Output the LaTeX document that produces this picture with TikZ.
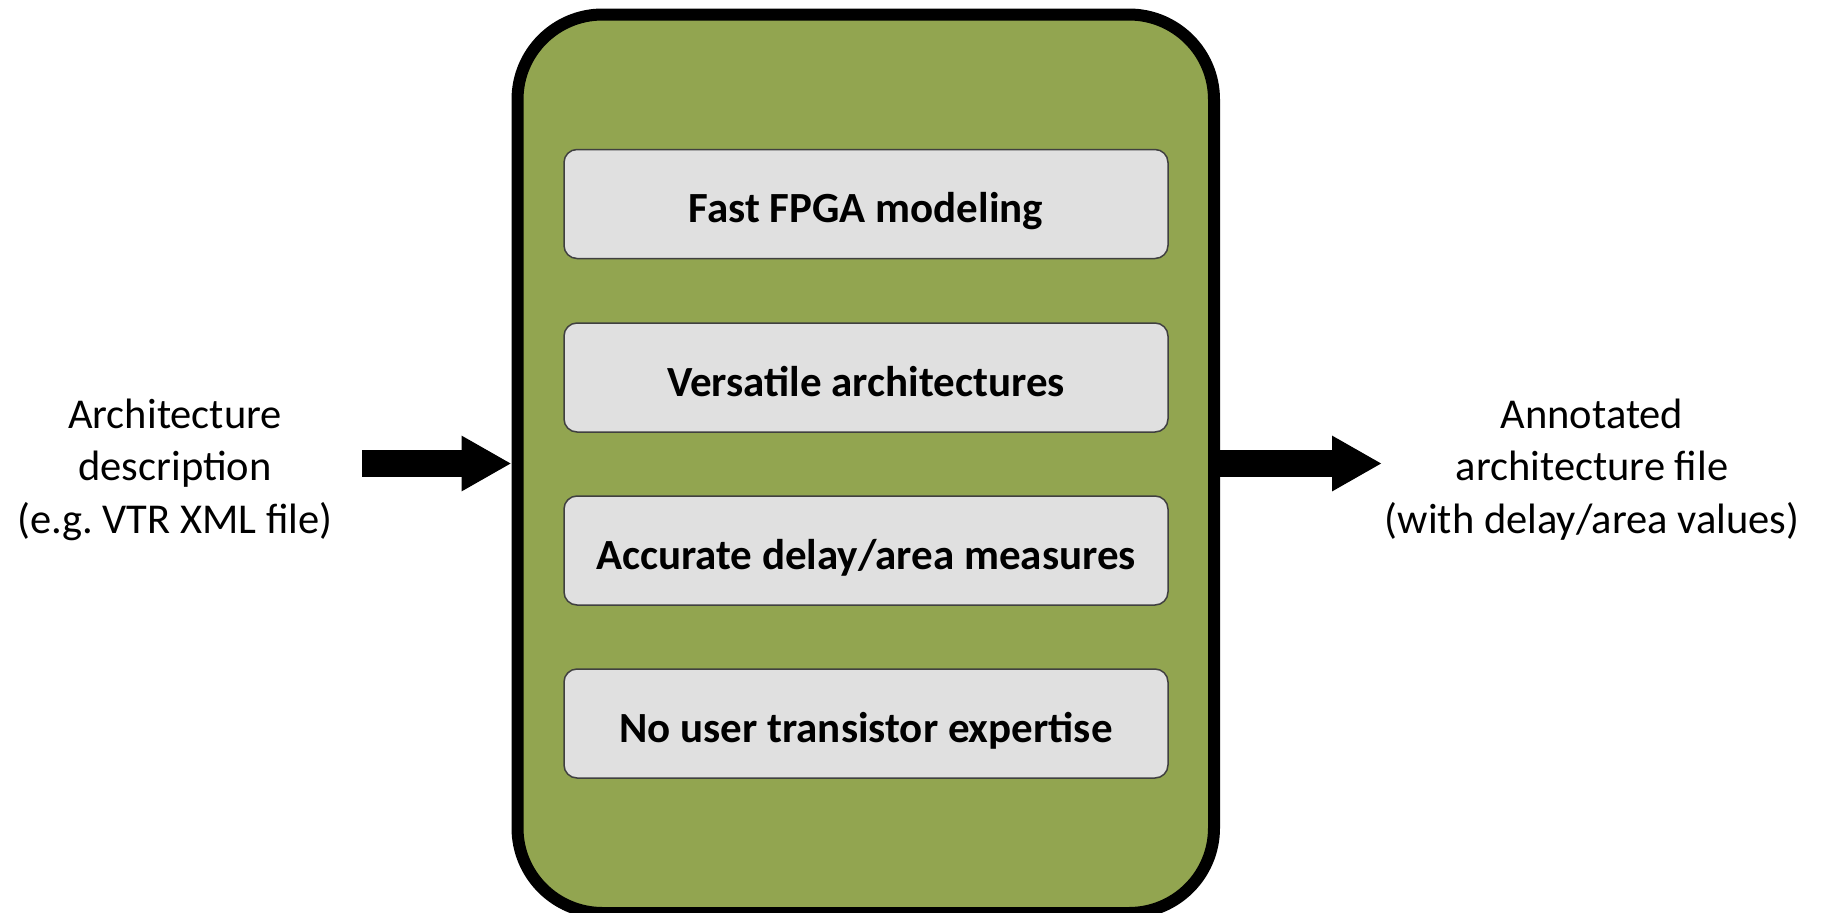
\documentclass[tikz,border=0pt]{standalone}
\usepackage{fontspec}
\setmainfont{Carlito}
\usetikzlibrary{arrows.meta}
\definecolor{olivebg}{RGB}{146,165,80}
\definecolor{boxfill}{RGB}{224,224,224}
\definecolor{boxline}{RGB}{64,64,64}
\tikzset{
  outerbox/.style={draw=black, line width=12pt, fill=olivebg, rounded corners=85pt,
    minimum width=696.5pt, minimum height=898.5pt, inner sep=0pt},
  featbox/.style={draw=boxline, line width=1.5pt, fill=boxfill, rounded corners=13pt,
    minimum width=604pt, minimum height=109pt, inner sep=0pt,
    text height=37pt, text depth=0pt,
    font=\fontsize{43}{50}\selectfont\bfseries},
  sidetext/.style={align=center, inner sep=0pt, font=\fontsize{42.5}{52.5}\selectfont},
  blockarrow/.style={line width=27pt, -{Triangle[length=50pt,width=52pt]}}
}
\begin{document}
\begin{tikzpicture}[x=1pt,y=-1pt]
\useasboundingbox (0,0) rectangle (1829,913);
\node[outerbox] (core) at (865.75,463.75) {};
\node[featbox] (f1) at (866,204) {Fast FPGA modeling};
\node[featbox] (f2) at (866,377.5) {Versatile architectures};
\node[featbox] (f3) at (866,550.5) {Accurate delay/area measures};
\node[featbox] (f4) at (866,723.5) {No user transistor expertise};
\node[sidetext] (in) at (175,469.5) {Architecture\\description\\(e.g.\ VTR XML file)};
\node[sidetext] (out) at (1592,469.5) {Annotated\\architecture file\\(with delay/area values)};
\coordinate (inStart) at (362,463.5);
\coordinate (outEnd) at (1382,463.5);
\draw[blockarrow] (inStart) -- (core.west |- inStart);
\draw[blockarrow] (core.east |- outEnd) -- (outEnd);
\end{tikzpicture}
\end{document}
